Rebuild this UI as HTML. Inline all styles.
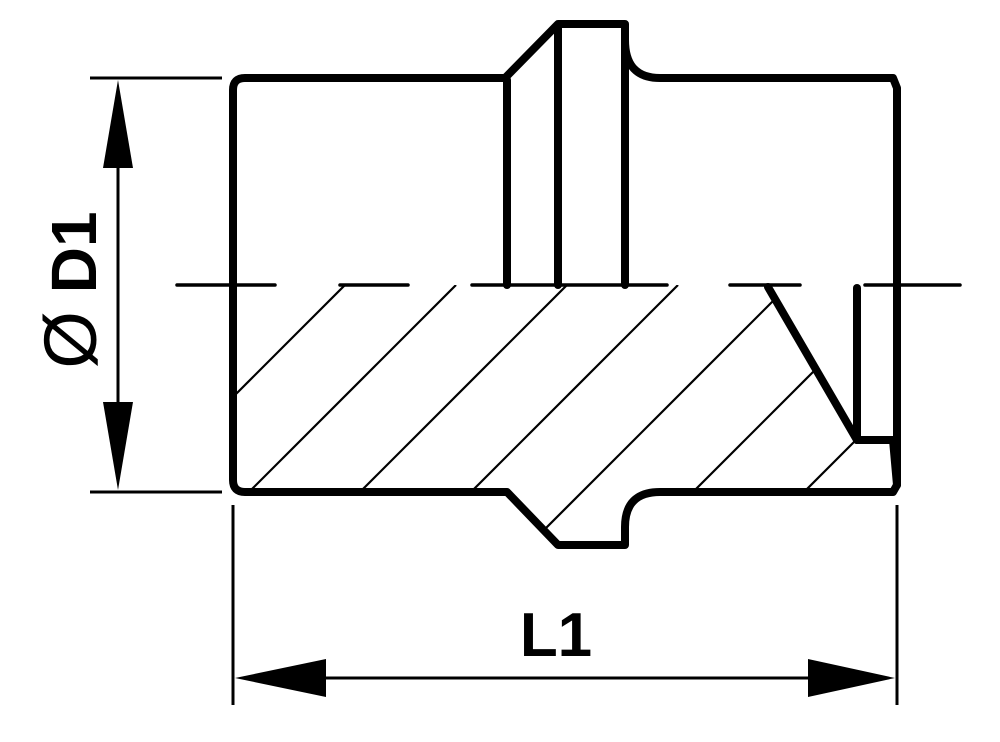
<!DOCTYPE html>
<html><head><meta charset="utf-8"><style>html,body{margin:0;padding:0;background:#fff;}svg{display:block}</style></head>
<body>
<svg width="1000" height="742" viewBox="0 0 1000 742" xmlns="http://www.w3.org/2000/svg">
<defs>
<clipPath id="c">
<path d="M233,285 L768,285 L857,440 L893,440 L897,485 L893,492 L660,492 Q625,492 625,527 L625,545 L558,545 L507,492 L245,492 Q233,492 233,480 Z"/>
</clipPath>
</defs>
<g stroke="#000" stroke-width="2.2" clip-path="url(#c)">
<line x1="130" y1="500" x2="345" y2="285"/>
<line x1="241" y1="500" x2="456" y2="285"/>
<line x1="352" y1="500" x2="567" y2="285"/>
<line x1="463" y1="500" x2="678" y2="285"/>
<line x1="420" y1="654" x2="789" y2="285"/>
<line x1="531" y1="654" x2="900" y2="285"/>
<line x1="642" y1="654" x2="1011" y2="285"/>
<line x1="753" y1="654" x2="1122" y2="285"/>
</g>
<g fill="none" stroke="#000" stroke-width="8" stroke-linejoin="round" stroke-linecap="round">
<path d="M245,78 L505,78 L558,24 L625,24 L625,40 Q625,78 660,78 L893,78 L897,88 L897,485 L893,492 L660,492 Q625,492 625,527 L625,545 L558,545 L507,492 L245,492 Q233,492 233,480 L233,90 Q233,78 245,78 Z"/>
<line x1="507" y1="80" x2="507" y2="285"/>
<line x1="558" y1="26" x2="558" y2="285"/>
<line x1="625" y1="40" x2="625" y2="285"/>
<line x1="768" y1="287" x2="857" y2="440"/>
<line x1="857" y1="288" x2="857" y2="440"/>
<line x1="857" y1="440" x2="893" y2="440"/>
<line x1="893" y1="440" x2="897" y2="485"/>
</g>
<g stroke="#000" stroke-width="3.5" stroke-linecap="round">
<line x1="177" y1="285" x2="275" y2="285"/>
<line x1="340" y1="285" x2="408" y2="285"/>
<line x1="472" y1="285" x2="667" y2="285"/>
<line x1="730" y1="285" x2="800" y2="285"/>
<line x1="865" y1="285" x2="960" y2="285"/>
</g>
<g stroke="#000" stroke-width="3">
<line x1="90" y1="78" x2="222" y2="78"/>
<line x1="90" y1="492" x2="222" y2="492"/>
<line x1="118" y1="110" x2="118" y2="460"/>
<line x1="233" y1="505" x2="233" y2="705"/>
<line x1="897" y1="505" x2="897" y2="705"/>
<line x1="260" y1="678" x2="870" y2="678"/>
</g>
<g fill="#000">
<polygon points="118,80 103,168 133,168"/>
<polygon points="118,490 103,402 133,402"/>
<polygon points="235,678 326,659 326,697"/>
<polygon points="895,678 808,659 808,697"/>
</g>
<text x="0" y="0" transform="translate(96,290) rotate(-90)" text-anchor="middle" font-family="Liberation Sans, DejaVu Sans, sans-serif" font-weight="bold" font-size="64"><tspan font-weight="normal" font-size="74">Ø</tspan> D1</text>
<text x="556" y="656" text-anchor="middle" font-family="Liberation Sans, sans-serif" font-weight="bold" font-size="62">L1</text>
</svg>
</body></html>
